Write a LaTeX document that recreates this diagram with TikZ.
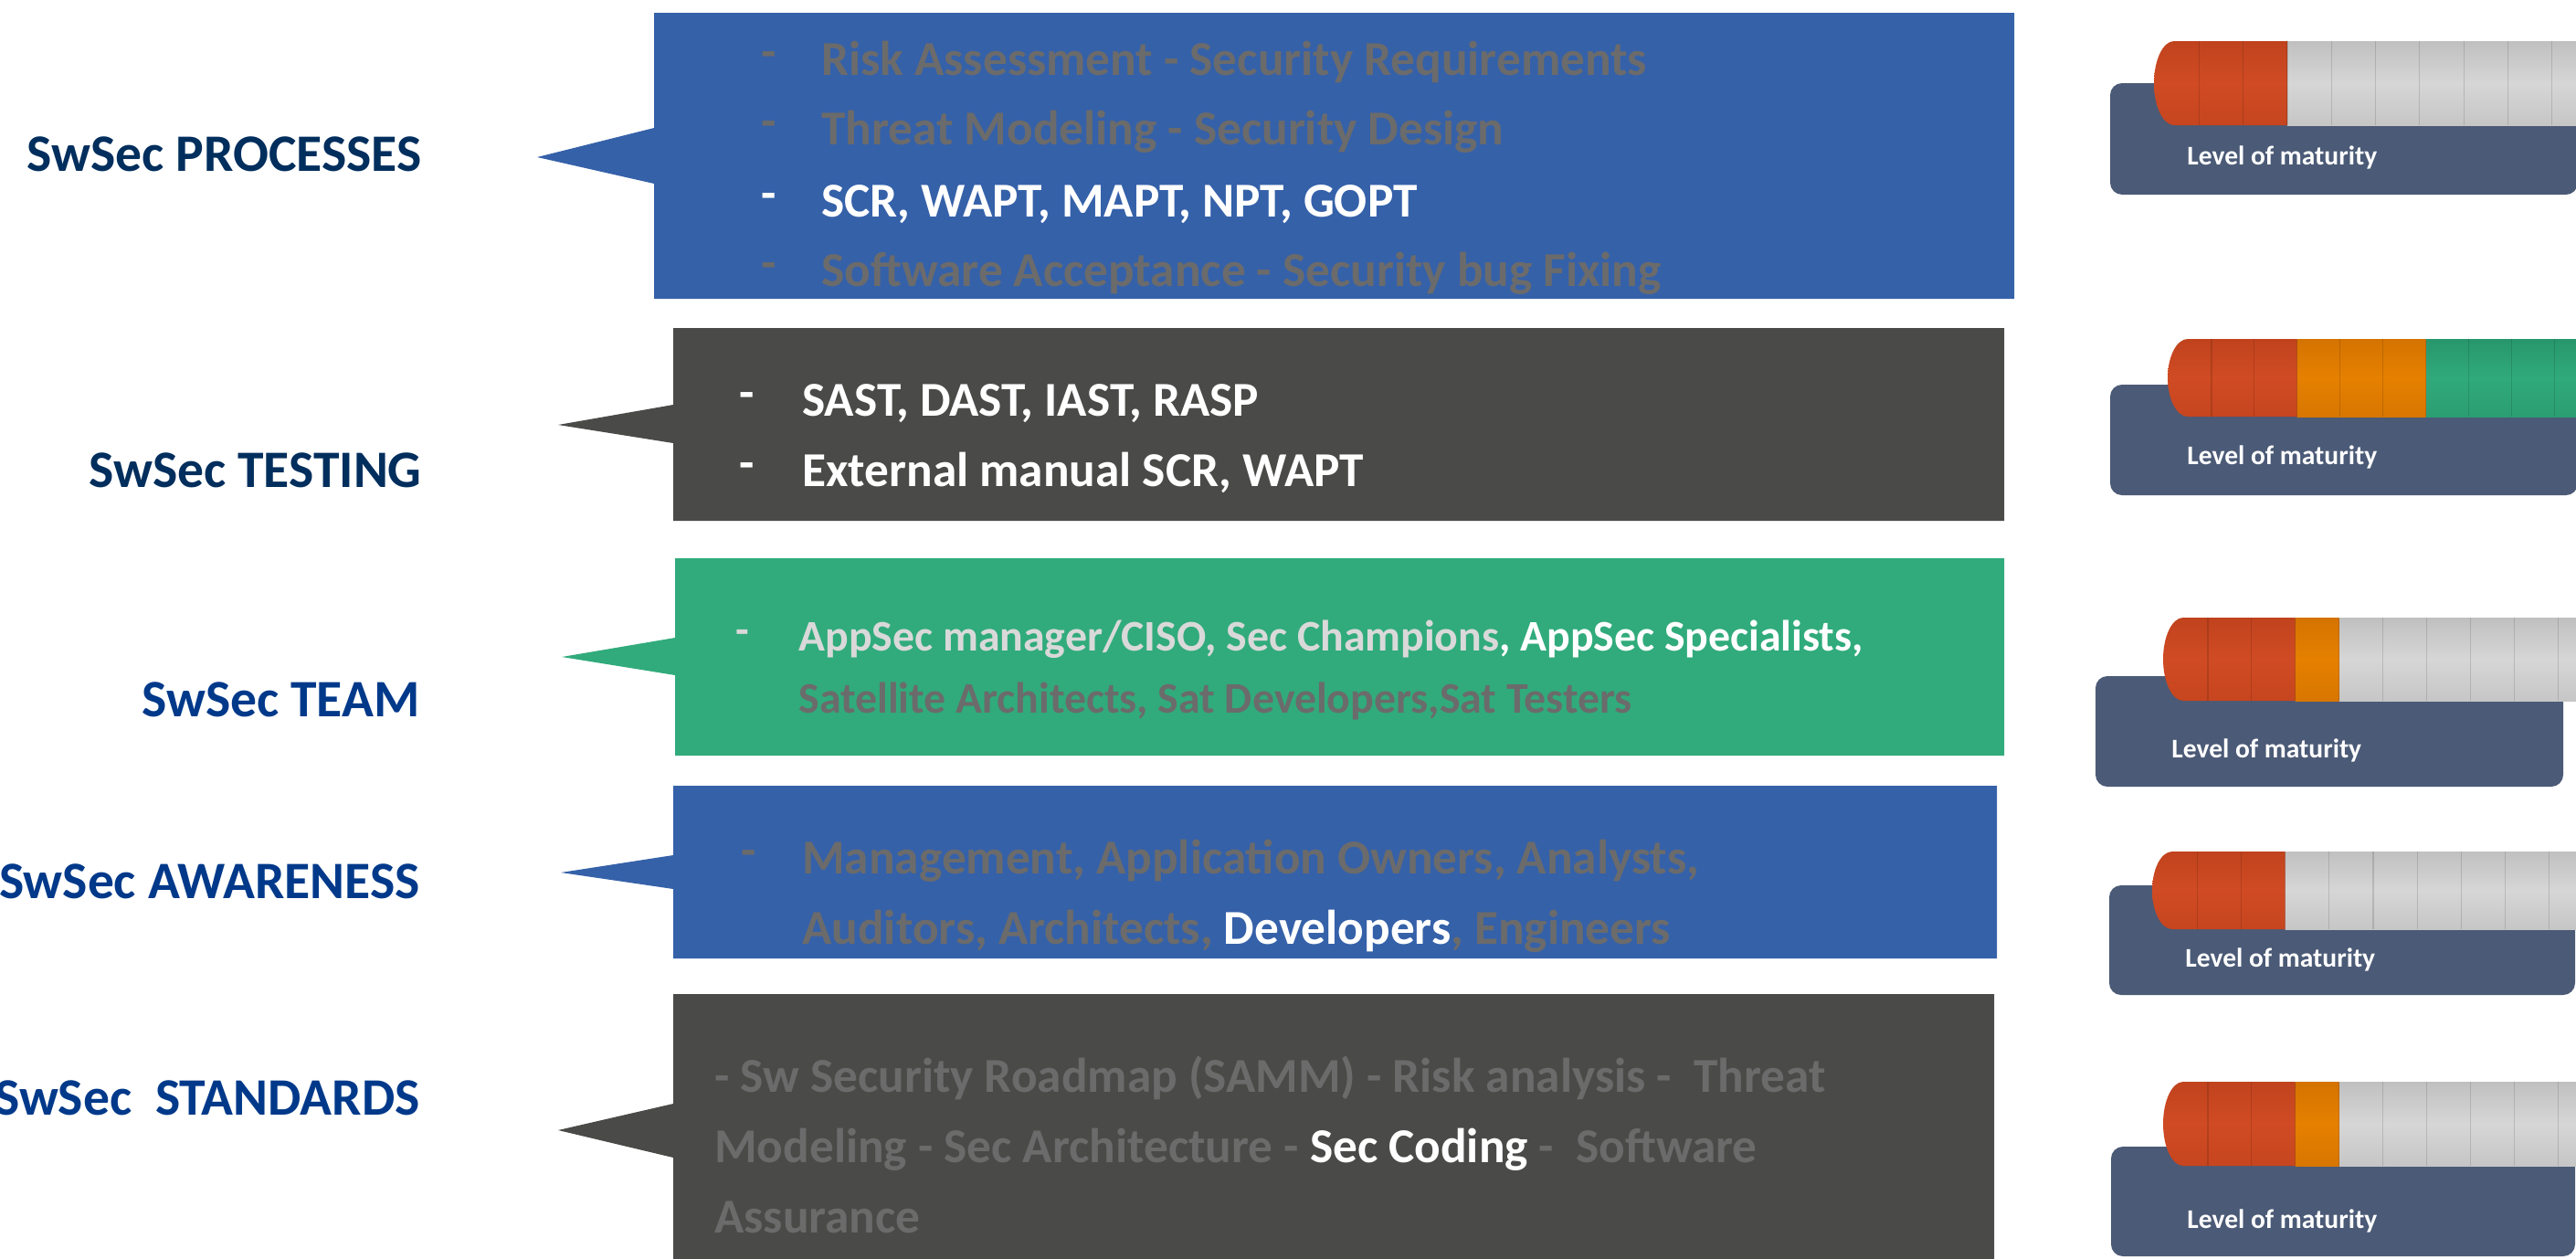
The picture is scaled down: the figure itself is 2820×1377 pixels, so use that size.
\documentclass[tikz,border=0pt]{standalone}
\usepackage{fontspec}
\setmainfont{Carlito}
\usetikzlibrary{calc}

\definecolor{boxblue}{RGB}{53,97,169}
\definecolor{boxdark}{RGB}{74,74,72}
\definecolor{boxgreen}{RGB}{49,171,124}
\definecolor{navyA}{RGB}{0,46,93}
\definecolor{navyB}{RGB}{0,57,138}
\definecolor{txtgray}{RGB}{107,107,107}
\definecolor{txtlight}{RGB}{217,217,217}
\definecolor{panelc}{RGB}{75,90,118}

\tikzset{
  lblA/.style={anchor=base east, inner sep=0pt, text=navyA, font=\fontsize{28.8}{32}\selectfont\bfseries},
  lblB/.style={lblA, text=navyB},
  item/.style={anchor=base west, inner sep=0pt, font=\fontsize{26.65}{30}\selectfont\bfseries},
  itemsm/.style={anchor=base west, inner sep=0pt, font=\fontsize{23.9}{28}\selectfont\bfseries},
  bullet/.style={item},
  matlbl/.style={anchor=base west, inner sep=0pt, text=white, font=\fontsize{14.75}{16}\selectfont\bfseries},
  panel/.style={fill=panelc, rounded corners=6.5pt},
  redcyl/.style={top color={rgb,255:red,192;green,67;blue,30}, bottom color={rgb,255:red,198;green,69;blue,31}, middle color={rgb,255:red,208;green,75;blue,35}},
  orangecyl/.style={top color={rgb,255:red,212;green,115;blue,0}, bottom color={rgb,255:red,216;green,118;blue,0}, middle color={rgb,255:red,229;green,128;blue,0}},
  greencyl/.style={top color={rgb,255:red,40;green,150;blue,108}, bottom color={rgb,255:red,43;green,158;blue,114}, middle color={rgb,255:red,48;green,170;blue,122}},
  greycyl/.style={top color={rgb,255:red,192;green,192;blue,192}, bottom color={rgb,255:red,198;green,198;blue,198}, middle color={rgb,255:red,214;green,214;blue,214}},
  sepline/.style={draw=black, draw opacity=0.13, line width=0.6pt},
}

% callout box: colour, left, top, right, bottom, notch top, notch bottom, tip coordinate
\newcommand\callout[8]{%
  \fill[#1] (#2,#3) -- (#4,#3) -- (#4,#5) -- (#2,#5) -- (#2,#7) -- (#8) -- (#2,#6) -- cycle;}

% maturity cylinder: top, bottom, left end, segment width, red, orange, green segments (rest grey)
\newcommand\matbar[7]{%
  \pgfmathsetmacro\mbRy{(#2-#1)/2}%
  \pgfmathsetmacro\mbMid{(#1+#2)/2}%
  \pgfmathsetmacro\mbCx{#3+22}%
  \pgfmathsetmacro\mbKx{#3+22-0.5523*22}%
  \pgfmathsetmacro\mbKa{\mbMid-0.5523*\mbRy}%
  \pgfmathsetmacro\mbKb{\mbMid+0.5523*\mbRy}%
  \pgfmathsetmacro\mbR{#3+1+#5*#4}%
  \pgfmathsetmacro\mbO{\mbR+#6*#4}%
  \pgfmathsetmacro\mbG{\mbO+#7*#4}%
  \shade[greycyl] (\mbG,#1) rectangle (2830,#2);
  \ifnum#7>0 \shade[greencyl] (\mbO,#1) rectangle (\mbG,#2);\fi
  \ifnum#6>0 \shade[orangecyl] (\mbR,#1) rectangle (\mbO,#2);\fi
  \shade[redcyl] (\mbCx,#1) -- (\mbR,#1) -- (\mbR,#2) -- (\mbCx,#2)
    .. controls (\mbKx,#2) and (#3,\mbKb) .. (#3,\mbMid)
    .. controls (#3,\mbKa) and (\mbKx,#1) .. (\mbCx,#1) -- cycle;
  \foreach \k in {1,...,10}{\draw[sepline] ({#3+1+\k*#4},#1) -- ({#3+1+\k*#4},#2);}
}

\begin{document}
\begin{tikzpicture}[x=0.5pt, y=-0.5pt]
\path[use as bounding box] (0,0) rectangle (2820,1377);
\clip (0,0) rectangle (2820,1377);
\fill[white] (0,0) rectangle (2820,1377);

% ---------- category labels ----------
\node[lblA] (lproc) at (462,187) {SwSec PROCESSES};
\node[lblA] (ltest) at (462,533) {SwSec TESTING};
\node[lblB] (lteam) at (460,784) {SwSec TEAM};
\node[lblB] (lawar) at (460,983) {SwSec AWARENESS};
\node[lblB] (lstd)  at (460,1220) {SwSec\ \ STANDARDS};

% ---------- callout boxes ----------
\coordinate (tip1) at (588,172);
\coordinate (tip2) at (611,465);
\coordinate (tip3) at (615,719);
\coordinate (tip4) at (614,955);
\coordinate (tip5) at (611,1237);
\callout{boxblue}{716}{14}{2205}{327}{140}{201}{tip1}
\callout{boxdark}{737}{359}{2194}{570}{443}{485}{tip2}
\callout{boxgreen}{739}{611}{2194}{827}{698}{739}{tip3}
\callout{boxblue}{737}{860}{2186}{1049}{936}{973}{tip4}
\callout{boxdark}{737}{1088}{2183}{1400}{1208}{1267}{tip5}

% processes
\node[bullet, text=txtgray] (p1b) at (833,74) {-};
\node[item, text=txtgray] (p1) at (899,82) {Risk Assessment - Security Requirements};
\node[bullet, text=txtgray] (p2b) at (833,150) {-};
\node[item, text=txtgray] (p2) at (899,158) {Threat Modeling - Security Design};
\node[bullet, text=white] (p3b) at (833,229) {-};
\node[item, text=white] (p3) at (899,237) {SCR, WAPT, MAPT, NPT, GOPT};
\node[bullet, text=txtgray] (p4b) at (833,305) {-};
\node[item, text=txtgray] (p4) at (899,313) {Software Acceptance - Security bug Fixing};

% testing
\node[bullet, text=white] (t1b) at (809,447) {-};
\node[item, text=white] (t1) at (878,455) {SAST, DAST, IAST, RASP};
\node[bullet, text=white] (t2b) at (809,524) {-};
\node[item, text=white] (t2) at (878,532) {External manual SCR, WAPT};

% team
\node[bullet, text=txtlight, font=\fontsize{23.9}{28}\selectfont\bfseries] (m1b) at (805,705) {-};
\node[itemsm, text=txtlight] (m1) at (874,712) {AppSec manager/CISO, Sec Champions\textcolor{white}{, AppSec Specialists,}};
\node[itemsm, text=txtgray] (m2) at (874,780) {Satellite Architects, Sat Developers,Sat Testers};

% awareness
\node[bullet, text=txtgray] (a1b) at (811,948) {-};
\node[item, text=txtgray] (a1) at (878,956) {Management, Application Owners, Analysts,};
\node[item, text=txtgray] (a2) at (878,1033) {Auditors, Architects, \textcolor{white}{Developers}, Engineers};

% standards
\node[item, text=txtgray] (s1) at (782,1195) {- Sw Security Roadmap (SAMM) - Risk analysis -\ \ Threat};
\node[item, text=txtgray] (s2) at (782,1272) {Modeling - Sec Architecture - \textcolor{white}{Sec Coding} -\ \ Software};
\node[item, text=txtgray] (s3) at (782,1349) {Assurance};

% ---------- maturity gauges ----------
\fill[panel] (2310,91) rectangle (2822,213);
\fill[panel] (2310,421) rectangle (2822,542);
\fill[panel] (2294,740) rectangle (2806,861);
\fill[panel] (2309,969) rectangle (2819,1089);
\fill[panel] (2311,1255) rectangle (2819,1375);

\matbar{45}{137}{2358}{48.3}{3}{0}{0}
\matbar{371}{456}{2373}{46.9}{3}{3}{20}
\matbar{676}{767}{2368}{47.9}{3}{1}{0}
\matbar{932}{1017}{2356}{48.2}{3}{0}{0}
\matbar{1184}{1276}{2368}{47.9}{3}{1}{0}

\node[matlbl] (g1) at (2394,180) {Level of maturity};
\node[matlbl] (g2) at (2394,508) {Level of maturity};
\node[matlbl] (g3) at (2377,829) {Level of maturity};
\node[matlbl] (g4) at (2392,1058) {Level of maturity};
\node[matlbl] (g5) at (2394,1344) {Level of maturity};
\end{tikzpicture}
\end{document}
